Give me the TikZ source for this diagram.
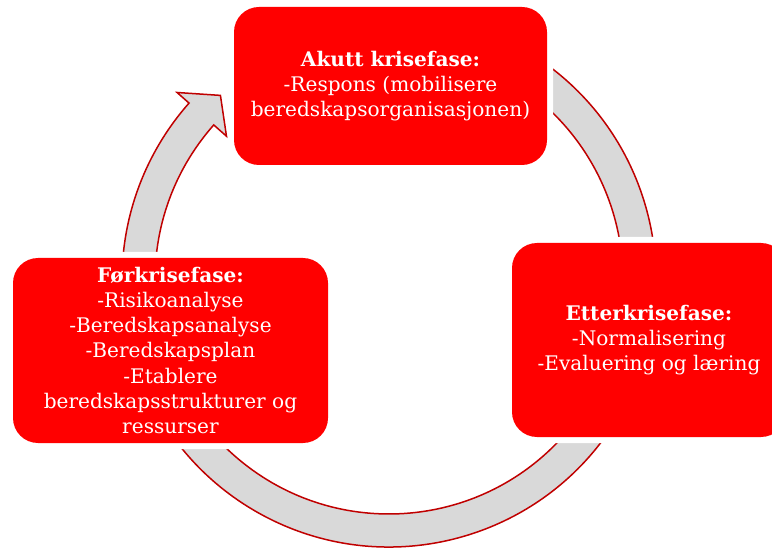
\documentclass[tikz,border=0pt]{standalone}
\usepackage{fontspec}
\setmainfont{DejaVu Serif}
\usetikzlibrary{calc}
\definecolor{boxred}{RGB}{255,0,0}
\definecolor{ringgray}{RGB}{217,217,217}
\definecolor{ringedge}{RGB}{192,0,0}
\begin{document}
\begin{tikzpicture}[x=1pt,y=1pt,
  phase/.style={rectangle, rounded corners=25pt, fill=boxred, text=white,
    align=center, font=\fontsize{20.1}{25.3}\selectfont, inner sep=0pt,
    preaction={draw=white, line width=12pt}},
  ring/.style={draw=ringedge, fill=ringgray, line width=1.5pt, line join=miter}]
\clip (0,0) rectangle (772,550);
\coordinate (C) at (389,270);
\draw[ring]
  ($(C)+(60:267)$) arc[start angle=60, end angle=-221.5, radius=267]
  -- ($(C)+(138.5:283)$) -- ($(C)+(132.4:250)$) -- ($(C)+(138.5:217)$)
  -- ($(C)+(138.5:234)$)
  arc[start angle=-221.5, end angle=60, radius=234] -- cycle;
\node[phase, minimum width=313pt, minimum height=158pt] (akutt) at (390.5,464)
  {{\bfseries Akutt krisefase:}\\-Respons (mobilisere\\beredskapsorganisasjonen)};
\node[phase, minimum width=315pt, minimum height=185pt] (for) at (170.5,199.5)
  {{\bfseries Førkrisefase:}\\-Risikoanalyse\\-Beredskapsanalyse\\-Beredskapsplan\\-Etablere\\beredskapsstrukturer og\\ressurser};
\node[phase, minimum width=274pt, minimum height=194pt] (etter) at (649,210)
  {{\bfseries Etterkrisefase:}\\-Normalisering\\-Evaluering og læring};
\end{tikzpicture}
\end{document}
